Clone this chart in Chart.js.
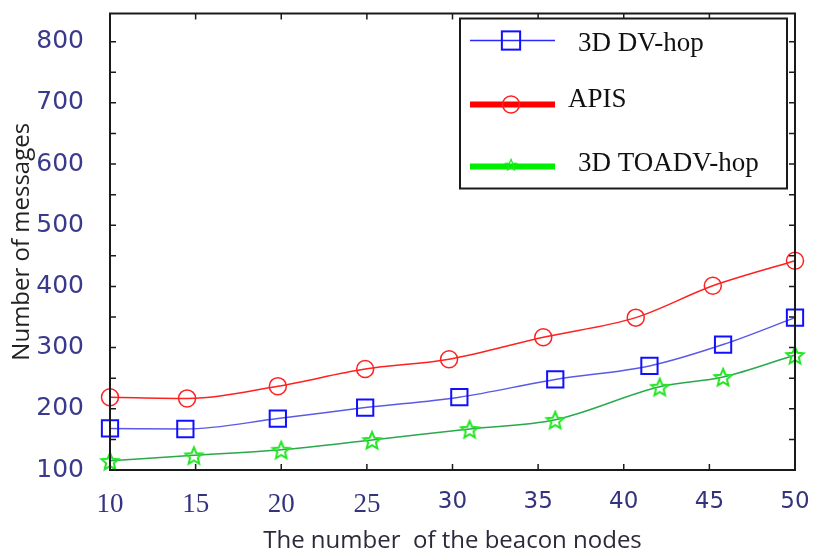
<!DOCTYPE html>
<html>
<head>
<meta charset="utf-8">
<script src="https://cdn.jsdelivr.net/npm/chart.js"></script>
<style>
  body { margin: 0; background: #fff; }
</style>
</head>
<body>
<canvas id="myChart" width="822" height="557"></canvas>
<script>
// Datos
var seriesNames = ['3D DV-hop', 'APIS', '3D TOADV-hop'];

var xDvHop = [10, 14.4, 19.8, 24.9, 30.4, 36, 41.5, 45.8, 50];
var yDvHop = [168, 167, 184, 202, 219, 248, 270, 305, 349];

var xApis = [10, 14.5, 19.8, 24.9, 29.8, 35.3, 40.7, 45.2, 50];
var yApis = [219, 217, 237, 265, 281, 317, 349, 401, 442];

var xToa = [10, 14.9, 20, 25.3, 31, 36, 42.1, 45.8, 50];
var yToa = [115, 124, 133, 149, 167, 182, 236, 252, 288];

var xTickLabels = [10, 15, 20, 25, 30, 35, 40, 45, 50];
var yTickLabels = [100, 200, 300, 400, 500, 600, 700, 800];

function toPoints(xs, ys) {
    return xs.map(function (x, i) { return { x: x, y: ys[i] }; });
}

// Estrella de cinco puntas como imagen para pointStyle
function makeStar(size, color, lw) {
    var c = document.createElement('canvas');
    c.width = size; c.height = size;
    var g = c.getContext('2d');
    var cx = size / 2, cy = size / 2 + 1;
    var ro = size / 2 - 2, ri = ro * 0.45;
    g.beginPath();
    for (var i = 0; i < 10; i++) {
        var r = i % 2 === 0 ? ro : ri;
        var a = -Math.PI / 2 + i * Math.PI / 5;
        var px = cx + r * Math.cos(a), py = cy + r * Math.sin(a);
        if (i === 0) g.moveTo(px, py); else g.lineTo(px, py);
    }
    g.closePath();
    g.strokeStyle = color;
    g.lineWidth = lw;
    g.stroke();
    return c;
}
var starImg = makeStar(22, '#22e622', 2);

// Marco y marcas interiores en los cuatro lados
var framePlugin = {
    id: 'frame',
    afterDatasetsDraw: function (chart) {
        var ctx = chart.ctx, a = chart.chartArea;
        var xs = chart.scales.x, ys = chart.scales.y;
        ctx.save();
        ctx.strokeStyle = '#1a1a1a';
        ctx.lineWidth = 1.5;
        ctx.beginPath();
        for (var v = 15; v < 50; v += 5) {
            var px = xs.getPixelForValue(v);
            ctx.moveTo(px, a.bottom); ctx.lineTo(px, a.bottom - 6);
            ctx.moveTo(px, a.top); ctx.lineTo(px, a.top + 6);
        }
        for (var w = 150; w <= 800; w += 50) {
            var py = ys.getPixelForValue(w);
            ctx.moveTo(a.left, py); ctx.lineTo(a.left + 6, py);
            ctx.moveTo(a.right, py); ctx.lineTo(a.right - 6, py);
        }
        ctx.stroke();
        ctx.lineWidth = 2;
        ctx.strokeRect(a.left, a.top, a.right - a.left, a.bottom - a.top);
        ctx.restore();
    }
};

// Leyenda con recuadro, dibujada a mano
var boxLegendPlugin = {
    id: 'boxLegend',
    afterDraw: function (chart) {
        var ctx = chart.ctx, a = chart.chartArea;
        var w = 327, h = 170;
        var left = a.right - 8 - w, top = a.top + 5;
        ctx.save();
        ctx.fillStyle = '#fff';
        ctx.fillRect(left, top, w, h);
        ctx.strokeStyle = '#1a1a1a';
        ctx.lineWidth = 2;
        ctx.strokeRect(left, top, w, h);

        var rows = [
            { ds: 0, y: 22, lw: 1.5, tx: 118, ty: 3 },
            { ds: 1, y: 86, lw: 6, tx: 108, ty: -5 },
            { ds: 2, y: 148, lw: 6, tx: 118, ty: -3 }
        ];
        rows.forEach(function (r) {
            var ds = chart.data.datasets[r.ds];
            var yy = top + r.y;
            ctx.strokeStyle = ds.legendColor;
            ctx.lineWidth = r.lw;
            ctx.beginPath();
            ctx.moveTo(left + 10, yy); ctx.lineTo(left + 95, yy);
            ctx.stroke();
            var mx = left + 51;
            ctx.strokeStyle = ds.pointBorderColor;
            ctx.lineWidth = ds.pointBorderWidth;
            if (ds.pointStyle === 'circle') {
                ctx.beginPath();
                ctx.arc(mx, yy, ds.pointRadius, 0, Math.PI * 2);
                ctx.stroke();
            } else if (ds.pointStyle === 'rect') {
                var s = ds.pointRadius * Math.SQRT1_2 + 1;
                ctx.strokeRect(mx - s, yy - s, 2 * s, 2 * s);
            } else {
                ctx.drawImage(starImg, mx - 7, yy - 9, 14, 14);
            }
            ctx.fillStyle = '#111';
            ctx.font = '27px "Liberation Serif"';
            ctx.textBaseline = 'middle';
            ctx.fillText(ds.label, left + r.tx, yy + r.ty);
        });
        ctx.restore();
    }
};

var ctx = document.getElementById('myChart').getContext('2d');

var myChart = new Chart(ctx, {
    type: 'line',
    data: {
        datasets: [{
            label: seriesNames[0],
            data: toPoints(xDvHop, yDvHop),
            borderColor: '#5a5ae8',
            legendColor: '#2a2aff',
            borderWidth: 1.5,
            pointStyle: 'rect',
            pointRadius: 11.5,
            pointBorderColor: '#1010ff',
            pointBackgroundColor: 'rgba(0,0,0,0)',
            pointBorderWidth: 2
        }, {
            label: seriesNames[1],
            data: toPoints(xApis, yApis),
            borderColor: '#ff2020',
            legendColor: '#ff0000',
            borderWidth: 1.5,
            pointStyle: 'circle',
            pointRadius: 8.5,
            pointBorderColor: '#ff2020',
            pointBackgroundColor: 'rgba(0,0,0,0)',
            pointBorderWidth: 1.5
        }, {
            label: seriesNames[2],
            data: toPoints(xToa, yToa),
            borderColor: '#2aa84c',
            legendColor: '#00ee00',
            borderWidth: 1.5,
            pointStyle: starImg,
            pointRadius: 9,
            pointBorderColor: '#22e622',
            pointBorderWidth: 2
        }]
    },
    options: {
        responsive: false,
        animation: false,
        cubicInterpolationMode: 'monotone',
        clip: false,
        layout: { padding: { top: 13, right: 27, left: 0, bottom: 0 } },
        plugins: {
            legend: { display: false },
            tooltip: { enabled: false }
        },
        scales: {
            x: {
                type: 'linear',
                min: 10,
                max: 50,
                grid: { display: false },
                border: { display: false },
                afterBuildTicks: function (scale) {
                    scale.ticks = xTickLabels.map(function (v) { return { value: v }; });
                },
                afterFit: function (scale) {
                    scale.height = 87;
                    scale.paddingLeft = 0;
                    scale.paddingRight = 0;
                },
                ticks: {
                    padding: 13,
                    maxRotation: 0,
                    color: '#34347e',
                    font: function (c) {
                        if (c.tick && c.tick.value < 30) {
                            return { family: '"Liberation Serif"', size: 27, lineHeight: 1 };
                        }
                        return { family: '"DejaVu Sans"', size: 23, lineHeight: 1 };
                    }
                },
                title: {
                    display: true,
                    text: 'The number  of the beacon nodes',
                    color: '#2a2a3a',
                    font: { family: '"Open Sans"', size: 24 },
                    padding: { top: 0, bottom: 1 }
                }
            },
            y: {
                type: 'linear',
                min: 100,
                max: 846,
                grid: { display: false },
                border: { display: false },
                afterBuildTicks: function (scale) {
                    scale.ticks = yTickLabels.map(function (v) { return { value: v }; });
                },
                afterFit: function (scale) {
                    scale.width = 110;
                    scale.paddingTop = 0;
                    scale.paddingBottom = 0;
                },
                ticks: {
                    padding: 18,
                    color: '#3a3a8c',
                    font: { family: '"DejaVu Sans"', size: 25, lineHeight: 1 }
                },
                title: {
                    display: true,
                    text: 'Number of messages',
                    color: '#222',
                    font: { family: '"Open Sans"', size: 24 },
                    padding: { top: 8, bottom: 0 }
                }
            }
        }
    },
    plugins: [framePlugin, boxLegendPlugin]
});
</script>
</body>
</html>
